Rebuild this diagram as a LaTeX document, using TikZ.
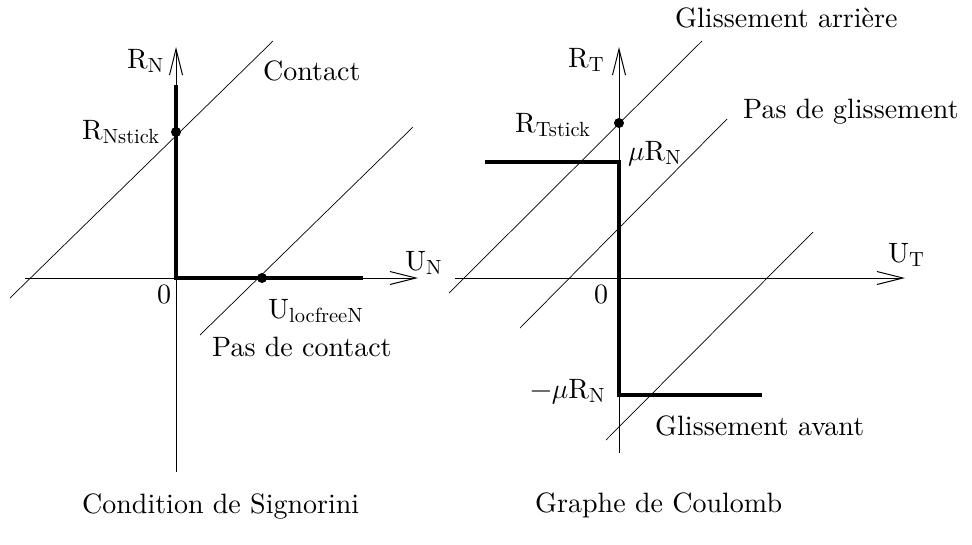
\documentclass[tikz,border=0pt]{standalone}
\usepackage{fontspec}
\setmainfont{lmroman10-regular}[Extension=.otf,ItalicFont=lmroman10-italic]
\usepackage{graphicx}
\usetikzlibrary{arrows.meta}
\newcommand{\sub}[2]{#1\raisebox{-0.17em}{\fontsize{20.5}{24}\selectfont #2}}
\newcommand{\mymu}{\scalebox{1.125}{$\mu$}}
\begin{document}
\begin{tikzpicture}[x=1pt,y=-1pt,
  axis/.style={line width=0.8pt,-{Straight Barb[length=26pt,width=13pt,line width=1pt]}},
  thin/.style={line width=0.7pt},
  thick/.style={line width=3.5pt},
  dotc/.style={circle,fill=black,inner sep=0pt,minimum size=10pt},
  lbl/.style={anchor=base west,inner sep=0pt,font=\fontsize{28}{33}\selectfont}]
\useasboundingbox (0,0) rectangle (972,544);
% ---------- Left: Signorini ----------
\coordinate (lxa) at (25,278);
\coordinate (lxb) at (418,278);
\coordinate (lya) at (176,472);
\coordinate (lyb) at (176,47);
\draw[axis] (lxa) -- (lxb);
\draw[axis] (lya) -- (lyb);
\coordinate (l1a) at (10,298);
\coordinate (l1b) at (273,41);
\coordinate (l2a) at (200,335);
\coordinate (l2b) at (413,127);
\draw[thin] (l1a) -- (l1b);
\draw[thin] (l2a) -- (l2b);
\coordinate (lt1) at (176,85);
\coordinate (lt2) at (176,278);
\coordinate (lt3) at (363,278);
\draw[thick] (lt1) -- (lt2) -- (lt3);
\node[dotc] (dns) at (176,132) {};
\node[dotc] (dul) at (262,278) {};
\node[lbl] (tRN) at (127,68) {\sub{R}{N}};
\node[lbl] (tcont) at (263,80) {Contact};
\node[lbl] (tRNs) at (82,139) {\sub{R}{Nstick}};
\node[lbl] (tUN) at (405,270) {\sub{U}{N}};
\node[lbl] (t0l) at (157,303) {0};
\node[lbl] (tUl) at (268,318) {\sub{U}{locfreeN}};
\node[lbl] (tpc) at (212,356) {Pas de contact};
\node[lbl] (tsig) at (82,513) {Condition de Signorini};
% ---------- Right: Coulomb ----------
\coordinate (rxa) at (455,278);
\coordinate (rxb) at (905,278);
\coordinate (rya) at (619,453);
\coordinate (ryb) at (619,47);
\draw[axis] (rxa) -- (rxb);
\draw[axis] (rya) -- (ryb);
\coordinate (r1a) at (449,293);
\coordinate (r1b) at (702,41);
\coordinate (r2a) at (520,328);
\coordinate (r2b) at (727,119);
\coordinate (r3a) at (606,440);
\coordinate (r3b) at (813,232);
\draw[thin] (r1a) -- (r1b);
\draw[thin] (r2a) -- (r2b);
\draw[thin] (r3a) -- (r3b);
\coordinate (rt1) at (485,162);
\coordinate (rt2) at (619,162);
\coordinate (rt3) at (619,395);
\coordinate (rt4) at (762,395);
\draw[thick] (rt1) -- (rt2) -- (rt3) -- (rt4);
\node[dotc] (dts) at (619,123) {};
\node[lbl] (tga) at (675,27) {Glissement arrière};
\node[lbl] (tRT) at (568,67) {\sub{R}{T}};
\node[lbl] (tpg) at (743,118) {Pas de glissement};
\node[lbl] (tRTs) at (515,132) {\sub{R}{Tstick}};
\node[lbl] (tmu) at (628,160) {\mymu\sub{R}{N}};
\node[lbl] (tUT) at (888,262) {\sub{U}{T}};
\node[lbl] (t0r) at (594,303) {0};
\node[lbl] (tmmu) at (530,398) {−\mymu\sub{R}{N}};
\node[lbl] (tgav) at (655,435) {Glissement avant};
\node[lbl] (tcoul) at (535,512) {Graphe de Coulomb};
\end{tikzpicture}
\end{document}
